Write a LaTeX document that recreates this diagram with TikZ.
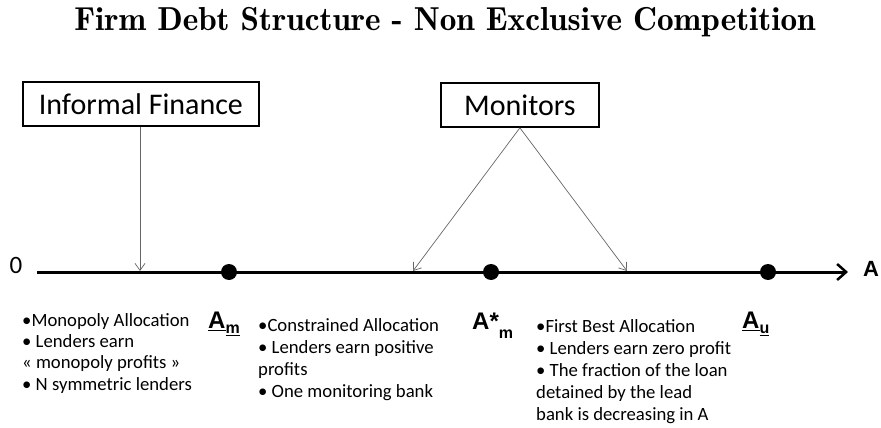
\documentclass[tikz,border=0pt]{standalone}
\usepackage{fontspec}
\setmainfont{Carlito}
\newfontfamily\arialf{Liberation Sans}
\usetikzlibrary{arrows.meta}
\begin{document}
\begin{tikzpicture}[x=1pt,y=-1pt,
  boxnode/.style={draw=black,line width=1.8pt,inner sep=0pt,anchor=north west,font=\fontsize{30}{34}\selectfont},
  feed/.style={draw=black!60,line width=0.7pt,-{Straight Barb[length=7pt,width=10pt]}},
  dotnode/.style={circle,fill=black,inner sep=0pt,minimum size=16pt},
  txt/.style={anchor=north west,align=left,inner sep=0pt,font=\fontsize{18.7}{22}\selectfont},
  albl/.style={anchor=north west,inner sep=0pt,font=\arialf\bfseries\fontsize{24}{28}\selectfont}]
\useasboundingbox (0,0) rectangle (881,428);
\node (title) at (445,22) {\fontfamily{lmr}\bfseries\fontsize{33.2}{38}\selectfont Firm Debt Structure - Non Exclusive Competition};
\node[boxnode,minimum width=236pt,minimum height=44pt] (inf) at (22,81) {Informal Finance};
\node[boxnode,minimum width=158pt,minimum height=44pt] (mon) at (440,82) {Monitors};
\coordinate (a0) at (37,272);
\coordinate (a1) at (848,272);
\draw[line width=3pt,-{Straight Barb[length=9pt,width=16pt,line width=2.5pt]}] (a0) -- (a1);
\node[font=\fontsize{25}{28}\selectfont] (zero) at (16,265) {0};
\node[font=\arialf\bfseries\fontsize{22}{26}\selectfont] (alab) at (871,269) {A};
\node[dotnode] (d1) at (229,272) {};
\node[dotnode] (d2) at (491,272) {};
\node[dotnode] (d3) at (768,272) {};
\coordinate (t1) at (140,271);
\coordinate (t2) at (413,271);
\coordinate (t3) at (627,271);
\draw[feed] (inf.south -| t1) -- (t1);
\draw[feed] (mon.south) -- (t2);
\draw[feed] (mon.south) -- (t3);
\node[txt] (b1) at (22,313) {•Monopoly Allocation\\[-0.7pt]• Lenders earn\\[-0.7pt]« monopoly profits »\\[-0.7pt]• N symmetric lenders};
\node[txt] (b2) at (258,318) {•Constrained Allocation\\• Lenders earn positive\\profits\\• One monitoring bank};
\node[txt] (b3) at (536,319) {•First Best Allocation\\• Lenders earn zero profit\\• The fraction of the loan\\detained by the lead\\bank is decreasing in A};
\node[albl] (am) at (208,312) {\underline{A}\raisebox{-5pt}{\fontsize{16}{18}\selectfont\underline{m}}};
\node[albl] (asm) at (472,313) {A*\raisebox{-9pt}{\fontsize{16}{18}\selectfont m}};
\node[albl] (au) at (742,312) {\underline{A}\raisebox{-5pt}{\fontsize{16}{18}\selectfont\underline{u}}};
\end{tikzpicture}
\end{document}
